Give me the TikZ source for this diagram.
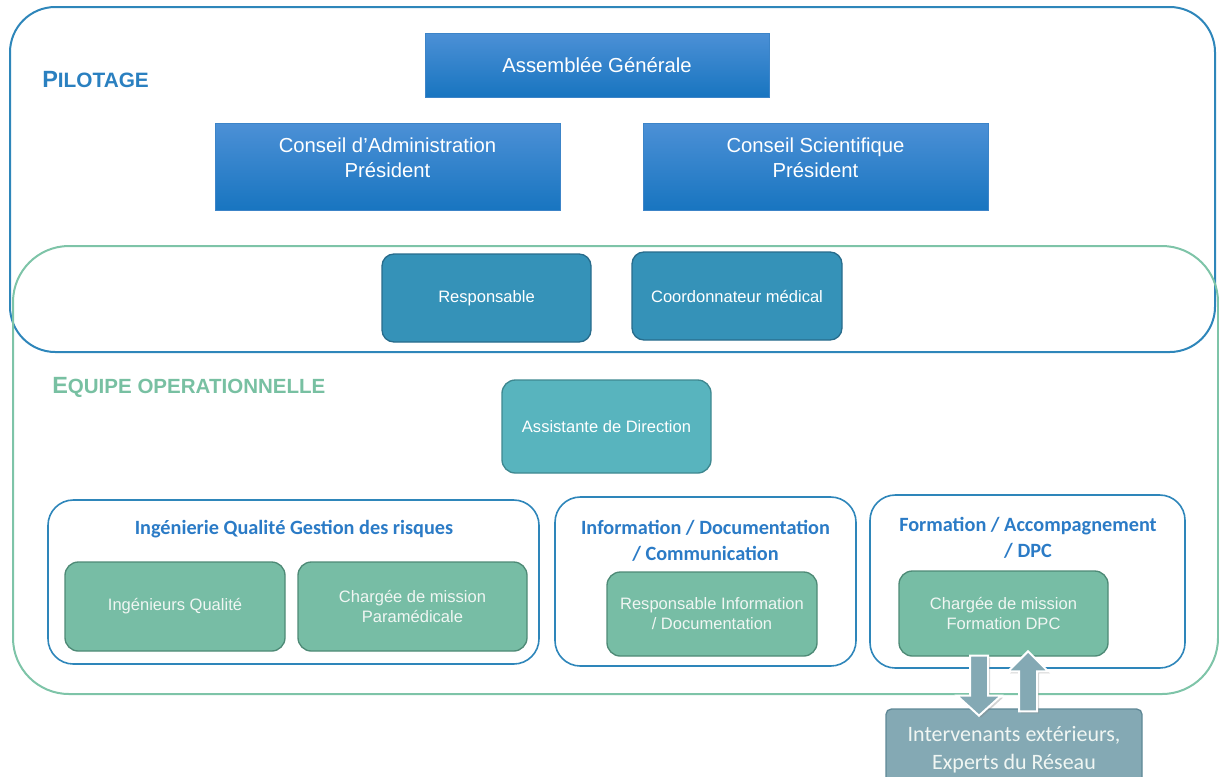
\documentclass[tikz,border=0pt]{standalone}
\usepackage{fontspec}
\setmainfont{Liberation Sans}
\newfontfamily\calibri{Carlito}
\usepackage{tikz}
\usetikzlibrary{shapes,shadows,calc}
\definecolor{pilotblue}{RGB}{46,134,186}
\definecolor{titleblue}{RGB}{42,128,192}
\definecolor{equipegreen}{RGB}{126,196,168}
\definecolor{titlegreen}{RGB}{120,192,162}
\definecolor{cbtop}{RGB}{76,144,214}
\definecolor{cbmid}{RGB}{32,130,208}
\definecolor{cbbot}{RGB}{24,117,192}
\definecolor{cbline}{RGB}{60,132,200}
\definecolor{respfill}{RGB}{53,146,184}
\definecolor{respline}{RGB}{40,108,140}
\definecolor{assistfill}{RGB}{88,180,190}
\definecolor{assistline}{RGB}{62,136,144}
\definecolor{cellfill}{RGB}{119,189,165}
\definecolor{cellline}{RGB}{78,138,118}
\definecolor{celltext}{RGB}{240,246,243}
\definecolor{headblue}{RGB}{43,123,198}
\definecolor{extfill}{RGB}{132,169,180}
\definecolor{extline}{RGB}{95,136,150}

\begin{document}
\begin{tikzpicture}[x=0.75pt,y=-0.75pt]
\useasboundingbox (0,0) rectangle (1219,776);

\tikzstyle{every node} = [align=center]
\tikzstyle{frame} = [draw,rectangle,inner sep=0pt,line width=1.5pt]
\tikzstyle{conseil} = [draw=cbline,rectangle,line width=0.6pt,top color=cbtop,
        middle color=cbmid,bottom color=cbbot,text=white,
        font=\fontsize{15.2}{18.75}\selectfont]
\tikzstyle{small} = [font=\fontsize{12.4}{15}\selectfont]
\tikzstyle{pilote} = [draw=respline,fill=respfill,rounded corners=9pt,
        line width=1pt,text=white,small]
\tikzstyle{assist} = [draw=assistline,fill=assistfill,rounded corners=10pt,
        line width=1pt,text=white,small]
\tikzstyle{cell} = [draw=cellline,fill=cellfill,rounded corners=10pt,
        line width=1pt,text=celltext,small]
\tikzstyle{group} = [draw=pilotblue,rounded corners=19pt,line width=1.2pt]
\tikzstyle{heading} = [text=headblue,font=\calibri\bfseries\fontsize{15.2}{19.5}\selectfont]
\tikzstyle{bigarrow} = [fill=extfill,draw=white,line width=1.5pt,
        drop shadow={opacity=0.35,shadow xshift=1.5pt,shadow yshift=-1.5pt}]

% cadres
\path (612.5,179.5) node[frame,draw=pilotblue,rounded corners=34pt,
        minimum width=903.75pt,minimum height=258.75pt] (pilotage) {};
\path (615.5,470) node[frame,draw=equipegreen,rounded corners=42pt,
        minimum width=903.75pt,minimum height=336pt] (equipe) {};

\path (42,87) node[anchor=base west,inner sep=0pt,text=titleblue,font=\bfseries] (tpilot)
        {{\fontsize{17.6}{20}\selectfont P}{\fontsize{15.6}{18}\selectfont ILOTAGE}};
\path (52,393) node[anchor=base west,inner sep=0pt,text=titlegreen,font=\bfseries] (tequipe)
        {{\fontsize{17.6}{20}\selectfont E}{\fontsize{15.4}{18}\selectfont QUIPE OPERATIONNELLE}};

\begin{scope}
\path (597,65) node[conseil,minimum width=258pt,minimum height=48pt] (ag) {Assemblée Générale};
\path (387.5,166.5) node[conseil,text depth=13.7pt,minimum width=258.75pt,minimum height=65.25pt] (ca)
        {Conseil d’Administration\\Président};
\path (815.5,166.5) node[conseil,text depth=13.7pt,minimum width=258.75pt,minimum height=65.25pt] (cs)
        {Conseil Scientifique\\Président};
\end{scope}

\begin{scope}
\path (486.5,298) node[pilote,minimum width=156.75pt,minimum height=66pt] (resp) {Responsable};
\path (737,296) node[pilote,minimum width=157.5pt,minimum height=66pt] (coord) {Coordonnateur médical};
\path (606.5,426.5) node[assist,minimum width=156.75pt,minimum height=69.75pt] (assist)
        {Assistante de Direction};
\end{scope}

% poles
\path (293.5,582) node[group,minimum width=368.25pt,minimum height=123pt] (grpiq) {};
\path (294,529) node[heading] (hiq) {Ingénierie Qualité Gestion des risques};
\path (175,606.5) node[cell,minimum width=165pt,minimum height=66.75pt] (iq) {Ingénieurs Qualité};
\path (412.5,606.5) node[cell,minimum width=171.75pt,minimum height=66.75pt] (cmp)
        {Chargée de mission\\Paramédicale};

\path (705.5,581.5) node[group,minimum width=225.75pt,minimum height=126.75pt] (grpinfo) {};
\path (705.5,540.5) node[heading] (hinfo) {Information / Documentation\\/ Communication};
\path (712,614) node[cell,minimum width=157.5pt,minimum height=63pt] (ri)
        {Responsable Information\\/ Documentation};

\path (1027.5,581.5) node[group,minimum width=236.25pt,minimum height=129.75pt] (grpform) {};
\path (1028,537.5) node[heading] (hform) {Formation / Accompagnement\\/ DPC};
\path (1003.5,613.5) node[cell,minimum width=156.75pt,minimum height=63.75pt] (dpc)
        {Chargée de mission\\Formation DPC};

\path (1014,749.5) node[draw=extline,fill=extfill,rounded corners=4pt,line width=1pt,
        minimum width=192pt,minimum height=60.75pt,text=celltext,
        font=\calibri\fontsize{16.5}{21}\selectfont] (ext)
        {Intervenants extérieurs,\\Experts du Réseau};

\filldraw[bigarrow] ($(dpc.south)+(-33.5,-1)$) -- ++(18,0) -- ++(0,40) -- ++(13,0)
        -- ++(-22,20) -- ++(-22,-20) -- ++(13,0) -- cycle;
\filldraw[bigarrow] ($(ext.north)+(5,3)$) -- ++(18,0) -- ++(0,-40) -- ++(11,0)
        -- ++(-20,-20) -- ++(-20,20) -- ++(11,0) -- cycle;

\end{tikzpicture}
\end{document}
